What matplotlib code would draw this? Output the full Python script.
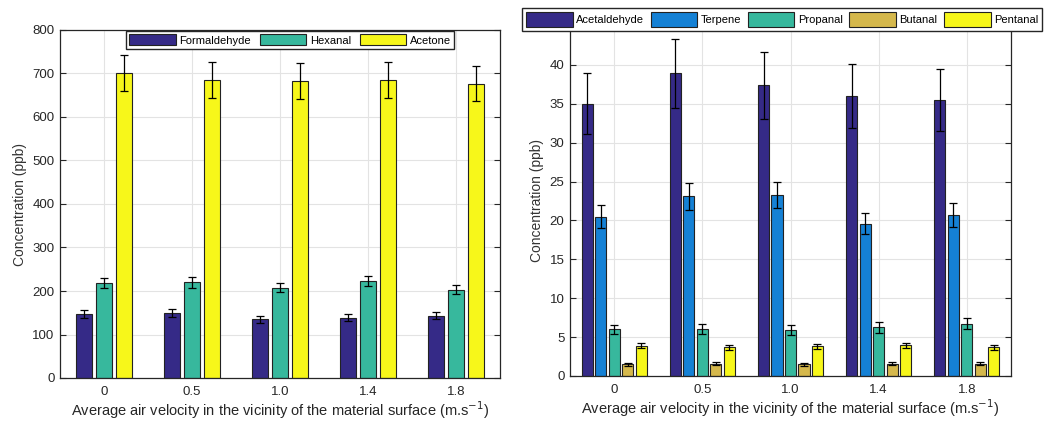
import numpy as np
import matplotlib
matplotlib.use("Agg")
import matplotlib.pyplot as plt

plt.rcParams['font.family'] = ['Liberation Sans', 'DejaVu Sans']

velocities = ['0', '0.5', '1.0', '1.4', '1.8']

# left panel
left_names = ['Formaldehyde', 'Hexanal', 'Acetone']
formaldehyde = [147, 150, 135, 139, 143]
formaldehyde_err = [9, 9, 8, 8, 8]
hexanal = [218, 220, 208, 223, 203]
hexanal_err = [12, 12, 11, 12, 11]
acetone = [701, 685, 683, 685, 677]
acetone_err = [42, 41, 41, 41, 40]

# right panel
right_names = ['Acetaldehyde', 'Terpene', 'Propanal', 'Butanal', 'Pentanal']
acetaldehyde = [35.0, 38.9, 37.4, 36.0, 35.5]
acetaldehyde_err = [3.9, 4.4, 4.3, 4.1, 4.0]
terpene = [20.5, 23.1, 23.3, 19.6, 20.7]
terpene_err = [1.5, 1.7, 1.7, 1.4, 1.5]
propanal = [6.0, 6.05, 5.9, 6.25, 6.7]
propanal_err = [0.6, 0.6, 0.6, 0.7, 0.7]
butanal = [1.5, 1.6, 1.5, 1.6, 1.6]
butanal_err = [0.2, 0.2, 0.2, 0.2, 0.2]
pentanal = [3.9, 3.7, 3.8, 3.95, 3.7]
pentanal_err = [0.3, 0.3, 0.3, 0.3, 0.3]

navy = '#352A87'
blue = '#1581D5'
teal = '#37B89D'
tan = '#D5B84C'
yellow = '#F7F71A'

xlabel = 'Average air velocity in the vicinity of the material surface (m.s$^{-1}$)'


def draw(ax, series, errs, names, colors, step, width, ymax, yticks):
    x = np.arange(1, len(velocities) + 1)
    n = len(series)
    for i in range(n):
        off = (i - (n - 1) / 2) * step
        ax.bar(x + off, series[i], width, color=colors[i], edgecolor='#222222',
               linewidth=0.8, label=names[i], zorder=2)
        ax.errorbar(x + off, series[i], yerr=errs[i], fmt='none', ecolor='black',
                    elinewidth=0.9, capsize=3, capthick=0.9, zorder=3)
    ax.set_xlim(0.5, 5.5)
    ax.set_ylim(0, ymax)
    ax.set_xticks(x)
    ax.set_xticklabels(velocities)
    ax.set_yticks(yticks)
    ax.grid(True, color='#e3e3e3', linewidth=0.8, zorder=0)
    ax.set_axisbelow(True)
    ax.tick_params(direction='in', length=4, labelsize=9.5, colors='#262626',
                   right=True, top=False, pad=6)
    ax.tick_params(axis='y', pad=4)
    for s in ax.spines.values():
        s.set_color('#262626')
        s.set_linewidth(0.9)
    ax.set_xlabel(xlabel, fontsize=10.5, color='#262626', labelpad=1)
    ax.set_ylabel('Concentration (ppb)', fontsize=10, color='#333333', labelpad=4)


fig = plt.figure(figsize=(10.45, 4.24), dpi=100)
W, H = 1045, 424

ax1 = fig.add_axes([60 / W, (H - 378) / H, 440 / W, 348 / H])
draw(ax1, [formaldehyde, hexanal, acetone], [formaldehyde_err, hexanal_err, acetone_err],
     left_names, [navy, teal, yellow], 0.227, 0.18, 800, range(0, 801, 100))
ax1.legend(loc='upper center', bbox_to_anchor=(0.523, 1.0), ncol=3, fontsize=8,
           frameon=True, fancybox=False, edgecolor='#262626', framealpha=1,
           handlelength=4.2, handleheight=1.1, handletextpad=0.3, columnspacing=0.8,
           borderpad=0.3, borderaxespad=0.1)

ax2 = fig.add_axes([570 / W, (H - 376) / H, 441 / W, 350 / H])
draw(ax2, [acetaldehyde, terpene, propanal, butanal, pentanal],
     [acetaldehyde_err, terpene_err, propanal_err, butanal_err, pentanal_err],
     right_names, [navy, blue, teal, tan, yellow], 0.153, 0.125, 45, range(0, 41, 5))
leg = ax2.legend(loc='upper left', bbox_to_anchor=(-48 / 441, 1.05), ncol=5, fontsize=8,
                 frameon=True, fancybox=False, edgecolor='#262626', framealpha=1,
                 handlelength=4.2, handleheight=1.6, handletextpad=0.3, columnspacing=0.6,
                 borderpad=0.35, borderaxespad=0.0)

fig.savefig('out.png', dpi=100)
